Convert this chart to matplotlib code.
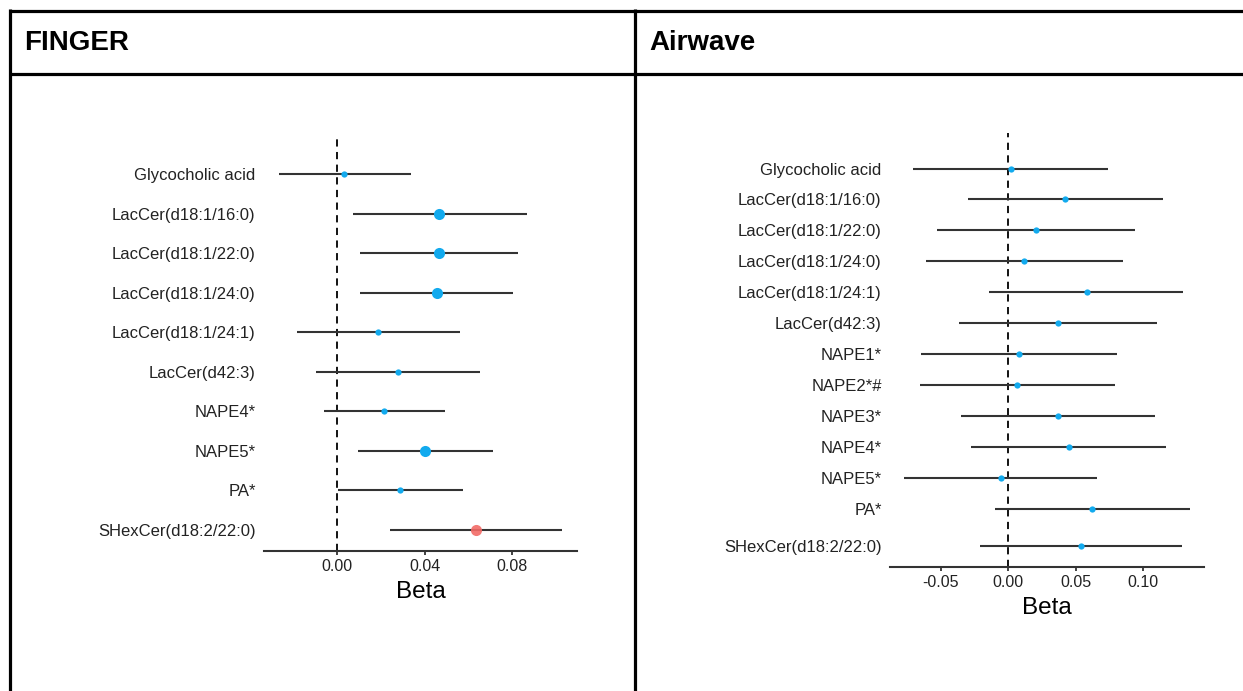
import matplotlib.pyplot as plt
from matplotlib.lines import Line2D

plt.rcParams['font.family'] = ['Liberation Sans', 'DejaVu Sans']

W, H = 1243, 691

# FINGER cohort: beta estimates with 95% CI
finger_labels = ['Glycocholic acid', 'LacCer(d18:1/16:0)', 'LacCer(d18:1/22:0)',
                 'LacCer(d18:1/24:0)', 'LacCer(d18:1/24:1)', 'LacCer(d42:3)',
                 'NAPE4*', 'NAPE5*', 'PA*', 'SHexCer(d18:2/22:0)']
finger_beta = [0.0032, 0.0465, 0.0463, 0.0454, 0.0188, 0.0276, 0.0213, 0.0401, 0.0287, 0.0634]
finger_lo = [-0.0267, 0.0073, 0.0104, 0.0104, -0.0186, -0.0097, -0.0059, 0.0096, 0.0002, 0.0241]
finger_hi = [0.0336, 0.0866, 0.0828, 0.0805, 0.0561, 0.0652, 0.0491, 0.0710, 0.0576, 0.1029]
finger_sig = [False, True, True, True, False, False, False, True, False, True]
finger_group = ['blue'] * 9 + ['red']

# Airwave cohort
airwave_labels = ['Glycocholic acid', 'LacCer(d18:1/16:0)', 'LacCer(d18:1/22:0)',
                  'LacCer(d18:1/24:0)', 'LacCer(d18:1/24:1)', 'LacCer(d42:3)',
                  'NAPE1*', 'NAPE2*#', 'NAPE3*', 'NAPE4*', 'NAPE5*', 'PA*',
                  'SHexCer(d18:2/22:0)']
airwave_beta = [0.0018, 0.0423, 0.0206, 0.0117, 0.0582, 0.0367, 0.0079, 0.0065,
                0.0371, 0.0448, -0.0057, 0.0624, 0.0537]
airwave_lo = [-0.0705, -0.0302, -0.0529, -0.0611, -0.0141, -0.0366, -0.0651, -0.0656,
              -0.0351, -0.0275, -0.0774, -0.0099, -0.0210]
airwave_hi = [0.0738, 0.1151, 0.0941, 0.0849, 0.1300, 0.1102, 0.0809, 0.0792,
              0.1092, 0.1169, 0.0661, 0.1349, 0.1288]
airwave_sig = [False] * 13
airwave_group = ['blue'] * 13

colors = {'blue': '#12AAEE', 'red': '#F26A66'}


def px_axes(fig, x0, x1, ytop, ybot):
    return fig.add_axes([x0 / W, 1 - ybot / H, (x1 - x0) / W, (ybot - ytop) / H])


def forest(ax, labels, beta, lo, hi, sig, group, ypos, ylim, xlim, ticks, ticklabels):
    ax.axvline(0, color='black', ls=(0, (4, 3)), lw=1.3, zorder=1)
    ax.hlines(ypos, lo, hi, color='#333333', lw=1.5, zorder=2)
    for y, b, s, g in zip(ypos, beta, sig, group):
        ax.plot(b, y, 'o', ms=8 if s else 4.5, color=colors[g], mec='none',
                alpha=0.9 if g == 'red' else 1, zorder=3)
    ax.set_xlim(*xlim)
    ax.set_ylim(*ylim)
    ax.set_yticks(ypos)
    ax.set_yticklabels(labels, fontsize=12, color='#222222')
    ax.set_xticks(ticks)
    ax.set_xticklabels(ticklabels, fontsize=11.5, color='#222222')
    ax.tick_params(axis='y', length=0, pad=6)
    ax.tick_params(axis='x', length=3, width=1.3, color='#333333', pad=2.5)
    for side in ['top', 'right', 'left']:
        ax.spines[side].set_visible(False)
    ax.spines['bottom'].set_linewidth(1.5)
    ax.spines['bottom'].set_color('#333333')
    ax.set_xlabel('Beta', fontsize=17.5, labelpad=5)


fig = plt.figure(figsize=(W / 100, H / 100), dpi=100)

# table frame
frame = dict(color='black', lw=2.3, transform=fig.transFigure, solid_capstyle='butt')
fig.add_artist(Line2D([9 / W, 1], [1 - 10.5 / H] * 2, **frame))
fig.add_artist(Line2D([9 / W, 1], [1 - 73.5 / H] * 2, **frame))
fig.add_artist(Line2D([10.5 / W] * 2, [0, 1 - 9 / H], **frame))
fig.add_artist(Line2D([634.5 / W] * 2, [0, 1 - 9 / H], **frame))
fig.text(24 / W, 1 - 43 / H, 'FINGER', fontsize=20, weight='bold', va='center')
fig.text(649 / W, 1 - 43 / H, 'Airwave', fontsize=20, weight='bold', va='center')

ax1 = px_axes(fig, 264, 577, 135, 551)
forest(ax1, finger_labels, finger_beta, finger_lo, finger_hi, finger_sig, finger_group,
       list(range(len(finger_labels))), (9.53, -0.99), (-0.0335, 0.1096),
       [0, 0.04, 0.08], ['0.00', '0.04', '0.08'])

# last Airwave row sits a bit further down
air_pos = list(range(len(airwave_labels) - 1)) + [len(airwave_labels) - 1 + 0.21]
ax2 = px_axes(fig, 890, 1204, 133, 567)
forest(ax2, airwave_labels, airwave_beta, airwave_lo, airwave_hi, airwave_sig, airwave_group,
       air_pos, (12.89, -1.15), (-0.0878, 0.1453),
       [-0.05, 0, 0.05, 0.10], ['-0.05', '0.00', '0.05', '0.10'])

fig.savefig('out.png', dpi=100)
